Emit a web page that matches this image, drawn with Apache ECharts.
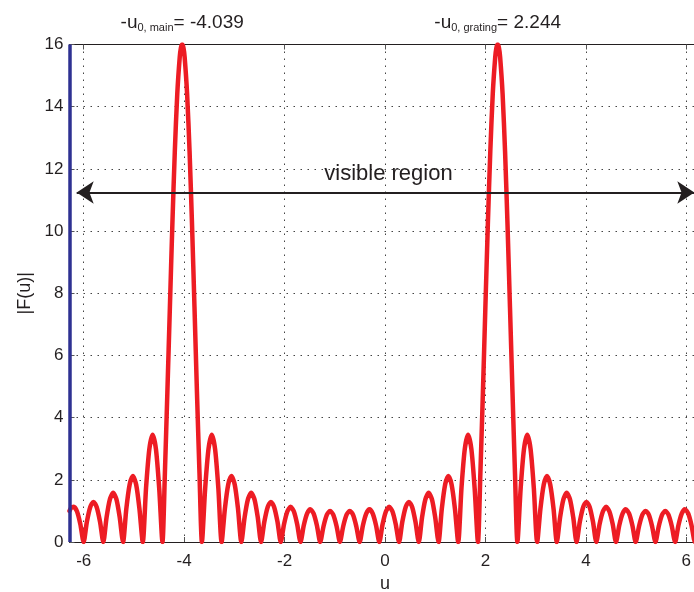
<!DOCTYPE html>
<html><head><meta charset="utf-8">
<script src="https://cdn.jsdelivr.net/npm/echarts@6/dist/echarts.min.js"></script>
<style>html,body{margin:0;padding:0;background:#fff}#c{width:694px;height:592px}</style>
</head><body><div id="c"></div>
<script>
// ---- data: [u, |F(u)|] ----
const leftSideLobes = [
  [-6.283,1.00],[-6.250,1.10],[-6.198,1.13],[-6.133,0.98],[-6.067,0.57],[-6.002,0],
  [-5.937,0.65],[-5.871,1.12],[-5.806,1.29],[-5.741,1.12],[-5.675,0.65],[-5.610,0],
  [-5.545,0.79],[-5.479,1.37],[-5.414,1.58],[-5.348,1.37],[-5.283,0.79],[-5.217,0],
  [-5.152,1.06],[-5.086,1.84],[-5.021,2.12],[-4.955,1.84],[-4.890,1.06],[-4.824,0],
  [-4.759,1.73],[-4.693,2.99],[-4.628,3.45],[-4.562,2.99],[-4.497,1.73],[-4.432,0]
];
const mainLobe = [
  [-4.383,2.24],[-4.334,4.82],[-4.284,7.55],[-4.235,10.20],[-4.186,12.56],[-4.137,14.41],
  [-4.088,15.59],[-4.064,15.90],[-4.039,16.00],[-4.014,15.90],[-3.990,15.59],[-3.941,14.41],
  [-3.892,12.56],[-3.843,10.20],[-3.794,7.55],[-3.745,4.82],[-3.695,2.24],[-3.646,0]
];
const middleSideLobes = [
  [-3.581,1.73],[-3.515,2.99],[-3.450,3.45],[-3.384,2.99],[-3.319,1.73],[-3.254,0],
  [-3.189,1.06],[-3.123,1.84],[-3.058,2.12],[-2.992,1.84],[-2.927,1.06],[-2.861,0],
  [-2.796,0.79],[-2.730,1.37],[-2.665,1.58],[-2.599,1.37],[-2.534,0.79],[-2.468,0],
  [-2.403,0.65],[-2.337,1.12],[-2.272,1.29],[-2.207,1.12],[-2.141,0.65],[-2.076,0],
  [-2.011,0.57],[-1.945,0.98],[-1.880,1.13],[-1.814,0.98],[-1.749,0.57],[-1.683,0],
  [-1.618,0.53],[-1.552,0.91],[-1.487,1.05],[-1.421,0.91],[-1.356,0.53],[-1.290,0],
  [-1.225,0.50],[-1.159,0.87],[-1.094,1.00],[-1.029,0.87],[-0.963,0.50],[-0.898,0],
  [-0.833,0.50],[-0.767,0.87],[-0.702,1.00],[-0.636,0.87],[-0.571,0.50],[-0.505,0],
  [-0.440,0.53],[-0.374,0.91],[-0.309,1.05],[-0.244,0.91],[-0.178,0.53],[-0.113,0],
  [-0.048,0.57],[0.018,0.98],[0.083,1.13],[0.149,0.98],[0.214,0.57],[0.280,0],
  [0.345,0.65],[0.411,1.12],[0.476,1.29],[0.542,1.12],[0.607,0.65],[0.673,0],
  [0.738,0.79],[0.804,1.37],[0.869,1.58],[0.935,1.37],[1.000,0.79],[1.066,0],
  [1.131,1.06],[1.197,1.84],[1.262,2.12],[1.327,1.84],[1.393,1.06],[1.458,0],
  [1.523,1.73],[1.589,2.99],[1.654,3.45],[1.720,2.99],[1.785,1.73],[1.851,0]
];
const gratingLobe = [
  [1.900,2.24],[1.950,4.82],[1.999,7.55],[2.048,10.20],[2.097,12.56],[2.146,14.41],
  [2.195,15.59],[2.219,15.90],[2.244,16.00],[2.269,15.90],[2.293,15.59],[2.342,14.41],
  [2.391,12.56],[2.440,10.20],[2.489,7.55],[2.539,4.82],[2.588,2.24],[2.637,0]
];
const rightSideLobes = [
  [2.702,1.73],[2.768,2.99],[2.833,3.45],[2.899,2.99],[2.964,1.73],[3.030,0],
  [3.095,1.06],[3.161,1.84],[3.226,2.12],[3.291,1.84],[3.357,1.06],[3.422,0],
  [3.487,0.79],[3.553,1.37],[3.618,1.58],[3.684,1.37],[3.749,0.79],[3.815,0],
  [3.880,0.65],[3.946,1.12],[4.011,1.29],[4.077,1.12],[4.142,0.65],[4.208,0],
  [4.273,0.57],[4.339,0.98],[4.404,1.13],[4.469,0.98],[4.535,0.57],[4.600,0],
  [4.665,0.53],[4.731,0.91],[4.796,1.05],[4.862,0.91],[4.927,0.53],[4.993,0],
  [5.058,0.50],[5.124,0.87],[5.189,1.00],[5.255,0.87],[5.320,0.50],[5.386,0],
  [5.451,0.50],[5.517,0.87],[5.582,1.00],[5.647,0.87],[5.713,0.50],[5.778,0],
  [5.843,0.53],[5.909,0.91],[5.974,1.05],[6.040,0.91],[6.105,0.53],[6.171,0],
  [6.236,0.57],[6.283,0.88]
];
const uRange = [-6.2832, 6.2832];          // visible region -2π … 2π
const yRange = [0, 16];
const peakU = { main: -4.039, grating: 2.244 };
const visibleRegionArrow = { from: -6.14, to: 6.16, level: 11.24 };

const FONT = '"Liberation Sans", Arial, Helvetica, sans-serif';
const TXT = '#231f20';
const curve = [].concat(leftSideLobes, mainLobe, middleSideLobes, gratingLobe, rightSideLobes);

const titleRich = {
  a: { fontSize: 19, color: TXT, fontFamily: FONT },
  b: { fontSize: 11, color: TXT, fontFamily: FONT, padding: [9, 0, 0, 0] }
};

const chart = echarts.init(document.getElementById('c'), null, { renderer: 'canvas' });
chart.setOption({
  animation: false,
  backgroundColor: '#ffffff',
  grid: { left: 69.5, width: 631, top: 44.5, height: 497.5, containLabel: false, outerBoundsMode: 'none' },
  xAxis: [{
    type: 'value', min: uRange[0], max: uRange[1], splitNumber: 6,
    name: 'u', nameLocation: 'middle', nameGap: 30,
    nameTextStyle: { fontSize: 18, color: TXT, fontFamily: FONT },
    axisLine: { show: true, onZero: false, lineStyle: { color: TXT, width: 1 } },
    axisTick: { show: true, inside: true, length: 5, lineStyle: { color: '#555' } },
    axisLabel: { fontSize: 17, color: TXT, fontFamily: FONT, margin: 11, showMinLabel: false, showMaxLabel: false },
    splitLine: { show: true, lineStyle: { color: '#444', width: 1, type: [1.5, 5.5] } }
  }, {
    type: 'value', position: 'top', min: uRange[0], max: uRange[1], splitNumber: 6,
    axisLine: { show: true, onZero: false, lineStyle: { color: TXT, width: 1 } },
    axisTick: { show: true, inside: true, length: 5, lineStyle: { color: '#555' } },
    axisLabel: { show: false }, splitLine: { show: false }
  }],
  yAxis: [{
    type: 'value', min: yRange[0], max: yRange[1], interval: 2,
    name: '|F(u)|', nameLocation: 'middle', nameGap: 35,
    nameTextStyle: { fontSize: 18, color: TXT, fontFamily: FONT },
    axisLine: { show: true, onZero: false, lineStyle: { color: TXT, width: 1 } },
    axisTick: { show: true, inside: true, length: 5, lineStyle: { color: '#555' } },
    axisLabel: { fontSize: 17, color: TXT, fontFamily: FONT, margin: 6 },
    splitLine: { show: true, lineStyle: { color: '#444', width: 1, type: [1.5, 5.5] } }
  }],
  series: [{
    type: 'line', data: curve, showSymbol: false, symbol: 'none', z: 3, smooth: 0.25,
    lineStyle: { color: '#ed1c24', width: 4.5, join: 'round', cap: 'round' },
    markPoint: {
      symbol: 'circle', symbolSize: 1, silent: true,
      itemStyle: { color: 'rgba(0,0,0,0)' },
      label: { show: true, position: 'top', distance: 11, rich: titleRich },
      data: [
        { coord: [peakU.main, yRange[1]], label: { formatter: '{a|-u}{b|0, main}{a|= ' + peakU.main.toFixed(3) + '}' } },
        { coord: [peakU.grating, yRange[1]], label: { formatter: '{a|-u}{b|0, grating}{a|= ' + peakU.grating.toFixed(3) + '}' } }
      ]
    }
  }, {
    type: 'line', data: [], z: 5,
    markLine: {
      silent: true, symbol: 'none', animation: false,
      label: { show: false },
      lineStyle: { color: '#2e3192', width: 3.5, type: 'solid' },
      data: [{ xAxis: uRange[0] }, { xAxis: uRange[1] }]
    }
  }, {
    type: 'line', data: [], z: 4,
    markLine: {
      silent: true, symbol: ['arrow', 'arrow'], symbolSize: 17, animation: false,
      lineStyle: { color: TXT, width: 2, type: 'solid' },
      label: { show: true, position: 'insideMiddleTop', distance: 8, offset: [3, 0], formatter: 'visible region',
               fontSize: 22, color: TXT, fontFamily: FONT },
      data: [[
        { coord: [visibleRegionArrow.from, visibleRegionArrow.level] },
        { coord: [visibleRegionArrow.to, visibleRegionArrow.level] }
      ]]
    }
  }]
});
</script></body></html>
